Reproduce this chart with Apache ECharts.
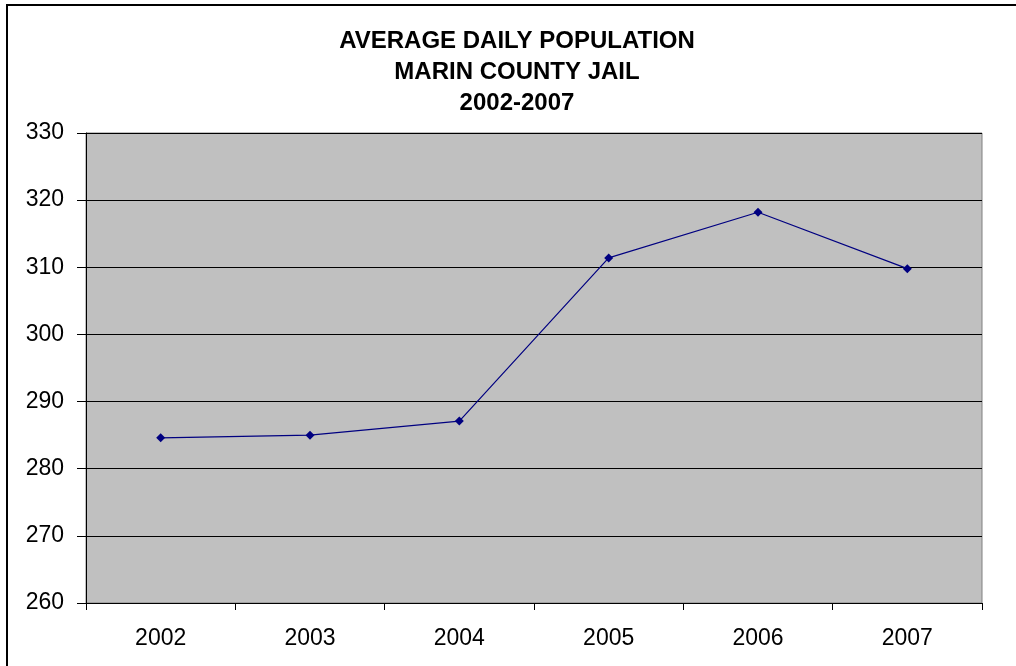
<!DOCTYPE html>
<html>
<head>
<meta charset="utf-8">
<title>Average Daily Population - Marin County Jail 2002-2007</title>
<script src="https://cdn.jsdelivr.net/npm/echarts@6/dist/echarts.min.js"></script>
<style>
  html, body { margin: 0; padding: 0; background: #ffffff; }
  #chart { width: 1016px; height: 666px; }
</style>
</head>
<body>
<div id="chart"></div>
<script>
// Chart data
const years = ['2002', '2003', '2004', '2005', '2006', '2007'];
const avgDailyPopulation = [284.6, 285.0, 287.1, 311.4, 318.2, 309.8];
const titleLines = ['AVERAGE DAILY POPULATION', 'MARIN COUNTY JAIL', '2002-2007'];
const yMin = 260;
const yMax = 330;
const yStep = 10;

const chart = echarts.init(document.getElementById('chart'), null, { renderer: 'canvas' });

const font = '"Liberation Sans", Arial, sans-serif';

chart.setOption({
  animation: false,
  backgroundColor: '#ffffff',
  title: {
    text: titleLines.join('\n'),
    left: 512,
    textAlign: 'center',
    top: 21,
    textStyle: {
      fontFamily: font,
      fontWeight: 'bold',
      fontSize: 24,
      lineHeight: 31,
      color: '#000000'
    }
  },
  graphic: [
    {
      // outer chart frame (left and top edges visible)
      type: 'rect',
      shape: { x: 7, y: 5, width: 1100, height: 800 },
      style: { fill: 'none', stroke: '#000000', lineWidth: 2 },
      silent: true,
      z: -1
    }
  ],
  grid: {
    left: 86,
    top: 133,
    right: 34,
    bottom: 63,
    show: true,
    backgroundColor: '#c0c0c0',
    borderColor: '#808080',
    borderWidth: 1,
    containLabel: false
  },
  xAxis: {
    type: 'category',
    data: years,
    boundaryGap: true,
    axisLine: { show: true, lineStyle: { color: '#000000', width: 1 } },
    axisTick: { show: true, alignWithLabel: false, length: 7, inside: false, lineStyle: { color: '#000000' } },
    axisLabel: { fontFamily: font, fontSize: 23, color: '#000000', margin: 24 },
    splitLine: { show: false }
  },
  yAxis: {
    type: 'value',
    min: yMin,
    max: yMax,
    interval: yStep,
    axisLine: { show: true, lineStyle: { color: '#000000', width: 1 } },
    axisTick: { show: true, length: 9, inside: false, lineStyle: { color: '#000000' } },
    axisLabel: { fontFamily: font, fontSize: 23, color: '#000000', margin: 22 },
    splitLine: { show: true, lineStyle: { color: '#000000', width: 1 } }
  },
  series: [
    {
      type: 'line',
      data: avgDailyPopulation,
      symbol: 'diamond',
      symbolSize: 9,
      showAllSymbol: true,
      lineStyle: { color: '#000080', width: 1.2 },
      itemStyle: { color: '#000080', borderWidth: 0 },
      emphasis: { disabled: true }
    }
  ]
});
</script>
</body>
</html>
